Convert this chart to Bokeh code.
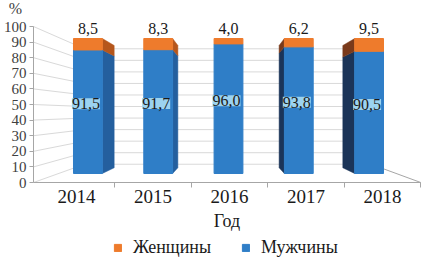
from bokeh.plotting import figure
from bokeh.models import (Range1d, FixedTicker, Legend, LegendItem, Label, LabelSet,
                          ColumnDataSource)
from bokeh.embed import file_html
from bokeh.resources import INLINE

# ---------------- data ----------------
years = ["2014", "2015", "2016", "2017", "2018"]
men = [91.5, 91.7, 96.0, 93.8, 90.5]
women = [8.5, 8.3, 4.0, 6.2, 9.5]
y_ticks = [0, 10, 20, 30, 40, 50, 60, 70, 80, 90, 100]
series_names = ["Женщины", "Мужчины"]
x_title = "Год"
y_title = "%"

# ---------------- style / geometry ----------------
FONT = "Liberation Serif"
BLUE = "#2F7EC7"
ORANGE = "#EE7B2C"
SIDE_R = {"m": "#245F9E", "w": "#B5561C"}
SIDE_L = {"m": "#1B3458", "w": "#7A3A1B"}
GRID = "#D9D9D9"
AXIS = "#A6A6A6"

W, H = 426, 259
AX_PX = 33               # y axis line position (px from left)
AXIS_Y = 182             # x axis line position (px from top)
Y_PX = 1.56              # px per unit, axis plane
BAR_BASE = 173           # bar base (px from top)
BAR_PX_Y = 1.35          # px per unit, bar plane
X0 = 76                  # px of first category on axis plane
X_UNIT = 76.5            # px per category on axis plane
BAR_C = 228              # px of middle bar
BAR_UNIT = 70.3          # px per category on bar plane
BAR_W = 0.41
VP = (2.0, 45.0)         # vanishing point (data coords)
DEPTH_BAR = 0.094
DEPTH_WALL = 0.26

xs = list(range(len(years)))
total = [m + w for m, w in zip(men, women)]
mid = [m / 2 for m in men]
men_txt = [f"{v:.1f}".replace(".", ",") for v in men]
women_txt = [f"{v:.1f}".replace(".", ",") for v in women]

x_start = -X0 / X_UNIT
x_end = (W - X0) / X_UNIT
ax_x = (AX_PX - X0) / X_UNIT
bx_start = 2 - BAR_C / BAR_UNIT
bx_end = 2 + (W - BAR_C) / BAR_UNIT

p = figure(width=W, height=H, output_backend="svg", toolbar_location=None,
           x_range=Range1d(x_start, x_end),
           y_range=Range1d((AXIS_Y - H) / Y_PX, AXIS_Y / Y_PX),
           min_border_left=0, min_border_right=0, min_border_top=0,
           min_border_bottom=0)
p.extra_x_ranges = {"bars": Range1d(bx_start, bx_end)}
p.extra_y_ranges = {"bars": Range1d((BAR_BASE - H) / BAR_PX_Y, BAR_BASE / BAR_PX_Y)}
p.outline_line_color = None
p.xgrid.visible = False
p.ygrid.visible = False
p.background_fill_color = "white"

# ---------- perspective walls / grid ----------
def back(v, vp, d):
    return v + d * (vp - v)

last = xs[-1] + 0.5
xl1 = back(ax_x, VP[0], DEPTH_WALL)
xr1 = back(last, VP[0], DEPTH_WALL)
gx0, gy0, gx1, gy1 = [], [], [], []
for t in y_ticks:
    yb = back(t, VP[1], DEPTH_WALL)
    gx0 += [ax_x, xl1]; gy0 += [t, yb]
    gx1 += [xl1, xr1]; gy1 += [yb, yb]
p.segment(gx0, gy0, gx1, gy1, line_color=GRID, line_width=1)
p.segment([last], [0], [xr1], [back(0, VP[1], DEPTH_WALL)], line_color=AXIS, line_width=1)

# ---------- bar side faces ----------
sxs, sys, scol = [], [], []
for i, x in enumerate(xs):
    if abs(x - VP[0]) < 1e-9:
        continue
    if x < VP[0]:
        e, pal = x + BAR_W / 2, SIDE_R
    else:
        e, pal = x - BAR_W / 2, SIDE_L
    eb = back(e, VP[0], DEPTH_BAR)
    for (y0, y1, k) in [(0, men[i], "m"), (men[i], total[i], "w")]:
        sxs.append([e, e, eb, eb])
        sys.append([y0, y1, back(y1, VP[1], DEPTH_BAR), back(y0, VP[1], DEPTH_BAR)])
        scol.append(pal[k])
p.patches(sxs, sys, fill_color=scol, line_color=scol, line_width=0.5,
          x_range_name="bars", y_range_name="bars")

# ---------- bar fronts ----------
src = ColumnDataSource(dict(x=xs, men=men, women=women, total=total, mid=mid,
                            mt=men_txt, wt=women_txt))
rs = p.vbar_stack(["men", "women"], x="x", width=BAR_W, color=[BLUE, ORANGE],
                  source=src, x_range_name="bars", y_range_name="bars")

# ---------- value labels ----------
p.add_layout(LabelSet(x="x", y="total", text="wt", source=src,
                      x_range_name="bars", y_range_name="bars",
                      y_offset=10, text_align="center", text_baseline="middle",
                      text_font=FONT, text_font_size="16px", text_color="#1A1A1A"))
p.add_layout(LabelSet(x="x", y="mid", text="mt", source=src,
                      x_range_name="bars", y_range_name="bars",
                      x_offset=-2, y_offset=8, text_align="center", text_baseline="middle",
                      text_font=FONT, text_font_size="16px", text_color="#1A1A1A",
                      background_fill_color="#9CD3F0"))

p.add_layout(Label(x=ax_x, y=100, x_offset=-18, y_offset=18, text=y_title,
                   text_font=FONT, text_font_size="16px", text_color="#404040",
                   text_align="center", text_baseline="middle"))

# ---------- axes ----------
xa = p.xaxis[0]
xa.fixed_location = 0
xa.bounds = (ax_x, last)
xa.ticker = FixedTicker(ticks=xs, minor_ticks=[x + 0.5 for x in xs])
xa.major_label_overrides = {x: y for x, y in zip(xs, years)}
xa.major_tick_line_color = None
xa.major_tick_out = 0
xa.major_tick_in = 0
xa.minor_tick_out = 5
xa.minor_tick_in = 0
xa.minor_tick_line_color = AXIS
xa.axis_line_color = AXIS
xa.major_label_standoff = 2
xa.major_label_text_font = FONT
xa.major_label_text_font_size = "19px"
xa.major_label_text_color = "#1A1A1A"
xa.axis_label = x_title
xa.axis_label_text_font = FONT
xa.axis_label_text_font_size = "18px"
xa.axis_label_text_font_style = "normal"
xa.axis_label_text_color = "#1A1A1A"
xa.axis_label_standoff = 5

ya = p.yaxis[0]
ya.fixed_location = ax_x
ya.ticker = FixedTicker(ticks=y_ticks)
ya.bounds = (0, 100)
ya.axis_line_color = AXIS
ya.major_tick_out = 4
ya.major_tick_in = 0
ya.major_tick_line_color = AXIS
ya.minor_tick_line_color = None
ya.major_label_standoff = 3
ya.major_label_text_font = FONT
ya.major_label_text_font_size = "15px"
ya.major_label_text_color = "#404040"

legend = Legend(items=[LegendItem(label=series_names[0], renderers=[rs[1]]),
                       LegendItem(label=series_names[1], renderers=[rs[0]])],
                orientation="horizontal", location=(113, 1),
                label_text_font=FONT, label_text_font_size="18px",
                label_text_color="#1A1A1A", glyph_width=9, glyph_height=9,
                label_standoff=11, spacing=30, padding=0, margin=0,
                border_line_color=None, background_fill_alpha=0)
p.add_layout(legend)

open("out.html", "w").write(file_html(p, INLINE))
